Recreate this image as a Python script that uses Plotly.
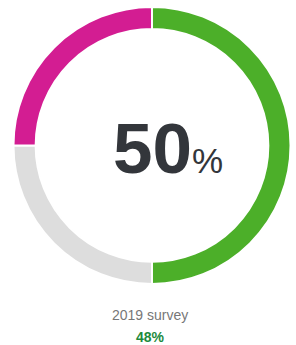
import plotly.graph_objects as go

labels = ["Yes", "No", "Unsure"]
values = [50, 25, 25]
colors = ["#4caf29", "#dddddd", "#d31d92"]
center_value = "50"
prev_label = "2019 survey"
prev_value = "48%"

W, H = 296, 345

fig = go.Figure(go.Pie(
    labels=labels, values=values, hole=0.84, sort=False, direction="clockwise",
    rotation=0, marker=dict(colors=colors, line=dict(color="white", width=2)),
    textinfo="none", hoverinfo="label+percent", showlegend=False,
    domain=dict(x=[0.044, 0.983], y=[0.177, 0.980]),
))

font = "Liberation Sans, Arial, sans-serif"
fig.add_annotation(x=152 / W, y=1 - 148 / H, xref="paper", yref="paper",
                   text="<b>" + center_value + "</b>", showarrow=False,
                   font=dict(family=font, size=71, color="#33363b"),
                   xanchor="center", yanchor="middle")
fig.add_annotation(x=190 / W, y=1 - 160 / H, xref="paper", yref="paper",
                   text="%", showarrow=False,
                   font=dict(family=font, size=35, color="#33363b"),
                   xanchor="left", yanchor="middle")
fig.add_annotation(x=150 / W, y=1 - 315 / H, xref="paper", yref="paper",
                   text=prev_label, showarrow=False,
                   font=dict(family=font, size=14, color="#777777"),
                   xanchor="center", yanchor="middle")
fig.add_annotation(x=150 / W, y=1 - 337 / H, xref="paper", yref="paper",
                   text="<b>" + prev_value + "</b>", showarrow=False,
                   font=dict(family=font, size=14, color="#1d8a3c"),
                   xanchor="center", yanchor="middle")

fig.update_layout(width=W, height=H, margin=dict(l=0, r=0, t=0, b=0),
                  paper_bgcolor="white", plot_bgcolor="white")
fig.write_html("out.html", config={"displayModeBar": False},
               post_script="document.body.style.margin='0';document.body.style.overflow='hidden';")
